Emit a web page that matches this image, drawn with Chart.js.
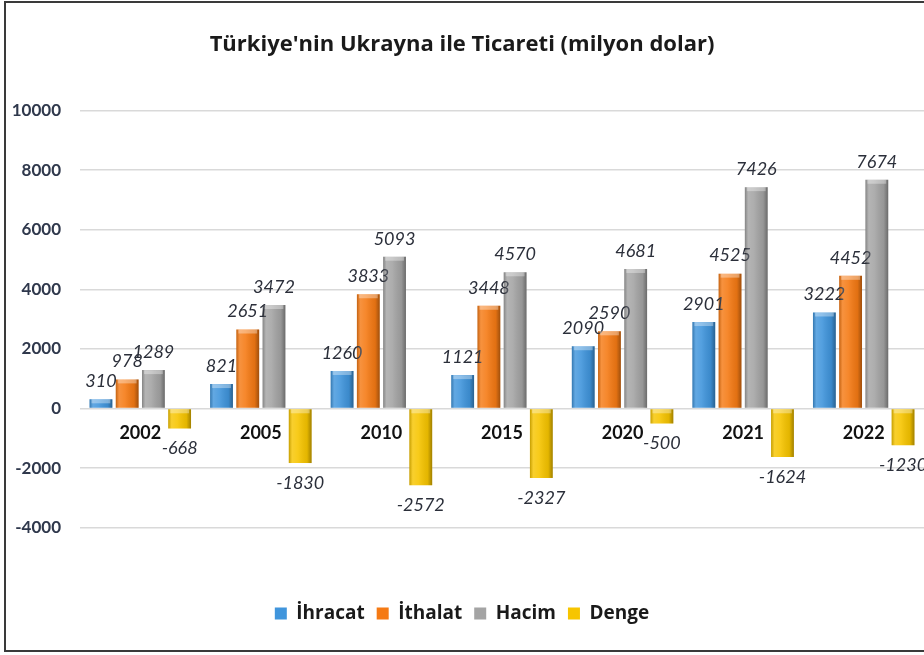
<!DOCTYPE html>
<html lang="tr">
<head>
<meta charset="utf-8">
<title>Türkiye'nin Ukrayna ile Ticareti</title>
<script src="https://cdn.jsdelivr.net/npm/chart.js@4.4.1/dist/chart.umd.min.js"></script>
<style>
    html, body { margin: 0; padding: 0; background: #ffffff; overflow: hidden; }
    .contenedor { position: relative; width: 924px; height: 655px; }
    .marco {
        position: absolute; left: 4px; top: 1px; width: 960px; height: 647px;
        border: 2px solid #3a3a3a; border-right: none; pointer-events: none;
    }
</style>
</head>
<body>
<div class="contenedor">
    <canvas id="graficaTicaret"></canvas>
    <div class="marco"></div>
</div>
<script>
// Datos (milyon dolar)
const yillar = ['2002', '2005', '2010', '2015', '2020', '2021', '2022'];
const ihracat = [310, 821, 1260, 1121, 2090, 2901, 3222];
const ithalat = [978, 2651, 3833, 3448, 2590, 4525, 4452];
const hacim = [1289, 3472, 5093, 4570, 4681, 7426, 7674];
const denge = [-668, -1830, -2572, -2327, -500, -1624, -1230];
const eksenDegerleri = [-4000, -2000, 0, 2000, 4000, 6000, 8000, 10000];

const fuente = 'Lato, "Open Sans", sans-serif';
const fuenteAncha = '"Open Sans", Lato, sans-serif';

// Sombreado tipo cilindro sobre cada barra + etiquetas en cursiva
const sombreado = {
    id: 'sombreado',
    afterDatasetsDraw(chart) {
        const ctx = chart.ctx;
        ctx.save();
        chart.data.datasets.forEach((ds, i) => {
            const meta = chart.getDatasetMeta(i);
            meta.data.forEach((bar, j) => {
                const p = bar.getProps(['x', 'y', 'base', 'width'], true);
                const izq = p.x - p.width / 2;
                const arriba = Math.min(p.y, p.base);
                const alto = Math.abs(p.y - p.base);
                const g = ctx.createLinearGradient(izq, 0, izq + p.width, 0);
                g.addColorStop(0, 'rgba(0,0,0,0.2)');
                g.addColorStop(0.15, 'rgba(255,255,255,0.18)');
                g.addColorStop(0.4, 'rgba(255,255,255,0.1)');
                g.addColorStop(0.8, 'rgba(0,0,0,0.08)');
                g.addColorStop(1, 'rgba(0,0,0,0.35)');
                ctx.fillStyle = g;
                ctx.fillRect(izq, arriba, p.width, alto);
                // brillo en el extremo superior
                ctx.fillStyle = 'rgba(255,255,255,0.35)';
                ctx.fillRect(izq + 2, arriba, p.width - 4, Math.min(4, alto));

                // etiqueta del valor
                const v = ds.data[j];
                ctx.font = 'italic 18px ' + fuente;
                ctx.fillStyle = '#2b2f3a';
                ctx.textAlign = 'center';
                ctx.textBaseline = 'middle';
                const ty = v >= 0 ? p.y - 18 : p.y + 20;
                ctx.fillText(String(v), p.x, ty);
            });
        });
        ctx.restore();
    }
};

const ctxTicaret = document.getElementById('graficaTicaret');

new Chart(ctxTicaret, {
    type: 'bar',
    data: {
        labels: yillar,
        datasets: [
            { label: 'İhracat', data: ihracat, backgroundColor: '#4095dc' },
            { label: 'İthalat', data: ithalat, backgroundColor: '#f57a14' },
            { label: 'Hacim', data: hacim, backgroundColor: '#a4a4a4' },
            { label: 'Denge', data: denge, backgroundColor: '#f7c500' }
        ]
    },
    options: {
        responsive: true,
        maintainAspectRatio: false,
        animation: false,
        categoryPercentage: 0.87,
        barPercentage: 0.87,
        layout: {
            padding: { top: 0, right: 0, bottom: 22, left: 0 }
        },
        plugins: {
            title: {
                display: true,
                text: "Türkiye'nin Ukrayna ile Ticareti (milyon dolar)",
                color: '#1a1a1a',
                font: { family: fuenteAncha, size: 22, weight: 'bold' },
                padding: { top: 32, bottom: 52 }
            },
            legend: {
                position: 'bottom',
                // título vacío: deja el hueco entre el eje y la leyenda
                title: {
                    display: true,
                    text: ' ',
                    font: { size: 1 },
                    padding: { top: 63, bottom: 0 }
                },
                labels: {
                    color: '#1a1a1a',
                    font: { family: fuenteAncha, size: 19, weight: 'bold' },
                    boxWidth: 12,
                    boxHeight: 12,
                    padding: 12
                }
            },
            tooltip: { enabled: false }
        },
        scales: {
            x: {
                position: { y: 0 },
                grid: { display: false },
                border: { display: false },
                ticks: {
                    color: '#111111',
                    font: { family: fuente, size: 18, weight: 'bold' },
                    padding: 6
                }
            },
            y: {
                min: -4000,
                max: 10000,
                afterFit(scale) { scale.width = 80; },
                afterBuildTicks(scale) {
                    scale.ticks = eksenDegerleri.map(v => ({ value: v }));
                },
                grid: { color: '#d9d9d9', lineWidth: 1.5, drawTicks: false },
                border: { display: false },
                ticks: {
                    color: '#2f384c',
                    font: { family: fuente, size: 17, weight: 'bold' },
                    padding: 19,
                    callback: v => String(v)
                }
            }
        }
    },
    plugins: [sombreado]
});
</script>
</body>
</html>
